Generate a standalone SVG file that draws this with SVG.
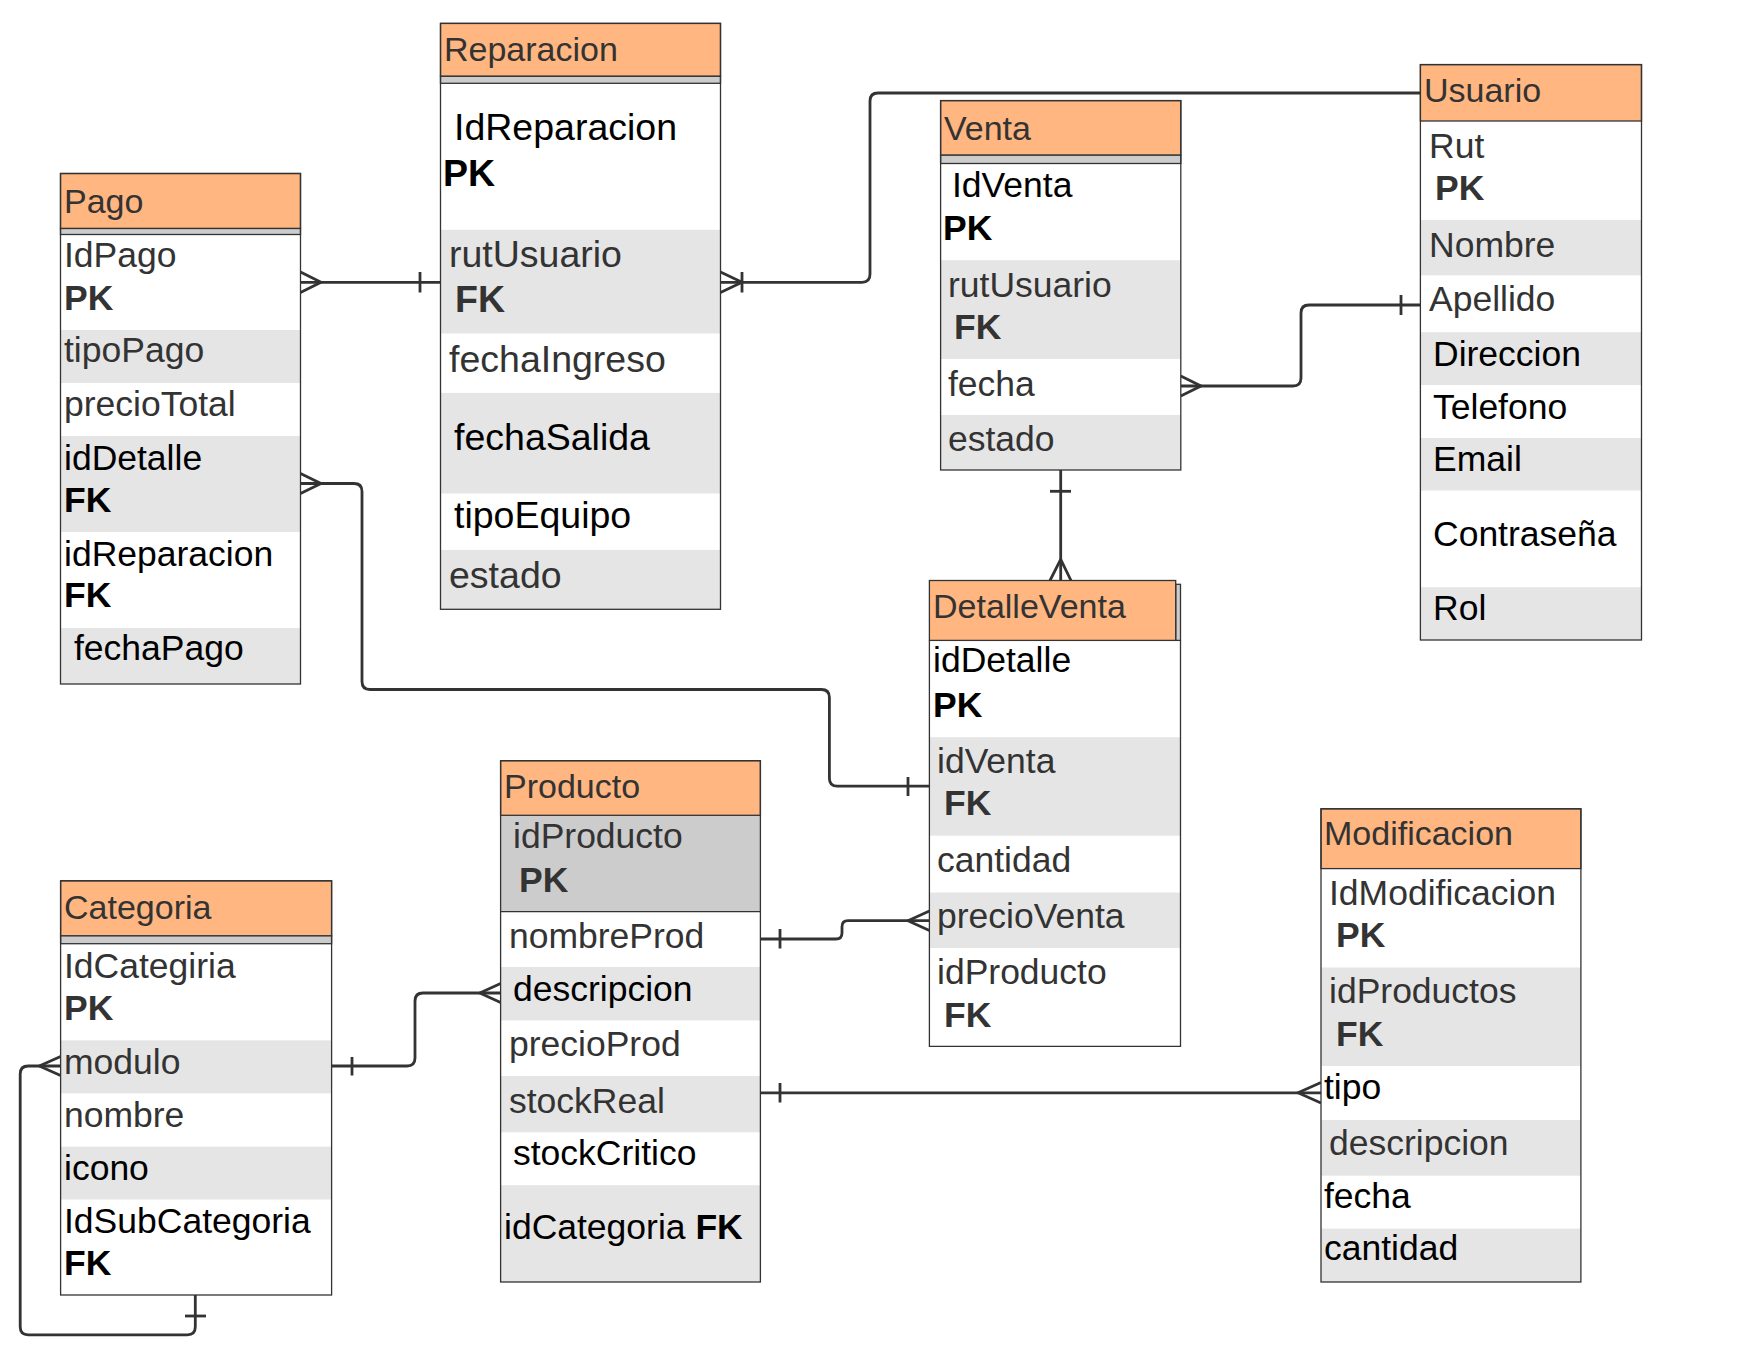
<svg xmlns="http://www.w3.org/2000/svg" width="1759" height="1359" viewBox="0 0 1759 1359">
<style>
.bg{fill:#fff}
.body{fill:#fff}
.alt{fill:#e5e5e5}
.pkrow{fill:#cccccc}
.hdr{fill:#ffb681;stroke:#333;stroke-width:1.3}
.strip{fill:#cccccc;stroke:#333;stroke-width:1.3}
.frame{fill:none;stroke:#333;stroke-width:1.3}
.sep{stroke:#333;stroke-width:1.3}
text{font-family:"Liberation Sans",Arial,sans-serif;font-size:35.5px;fill:#333}
.h{font-size:34px}
.k{fill:#000}
.b{font-weight:bold}
.r{font-size:37.5px}
.conn{fill:none;stroke:#333;stroke-width:2.8;stroke-linejoin:round}
</style>
<rect class="bg" x="0" y="0" width="1759" height="1359"/>

<g id="connectors">
  <!-- Pago - Reparacion -->
  <path class="conn" d="M300.5 282.3 H440.5"/>
  <path class="conn" d="M300.5 272 L321 282.3 L300.5 292.5"/>
  <path class="conn" d="M420 272 V292.5"/>
  <!-- Reparacion - Usuario -->
  <path class="conn" d="M720.5 282.3 H862 Q870 282.3 870 274.3 V101 Q870 93 878 93 H1420.4"/>
  <path class="conn" d="M720.5 272 L742 282.3 L720.5 292.5"/>
  <path class="conn" d="M742 272 V292.5"/>
  <!-- Venta - Usuario -->
  <path class="conn" d="M1180.8 386 H1293 Q1301 386 1301 378 V313 Q1301 305 1309 305 H1420.4"/>
  <path class="conn" d="M1180.8 376 L1201 386 L1180.8 396"/>
  <path class="conn" d="M1401 295 V315"/>
  <!-- Venta - DetalleVenta -->
  <path class="conn" d="M1060.7 470 V580.5"/>
  <path class="conn" d="M1050 491.3 H1071"/>
  <path class="conn" d="M1050 580.5 L1060.7 559.4 L1071 580.5"/>
  <!-- Pago - DetalleVenta -->
  <path class="conn" d="M300.5 483.5 H354 Q362 483.5 362 491.5 V681.5 Q362 689.5 370 689.5 H821.4 Q829.4 689.5 829.4 697.5 V778.2 Q829.4 786.2 837.4 786.2 H929.4"/>
  <path class="conn" d="M300.5 473.5 L321 483.5 L300.5 493.5"/>
  <path class="conn" d="M908 777 V796"/>
  <!-- Categoria self -->
  <path class="conn" d="M195.3 1295 V1326.8 Q195.3 1334.8 187.3 1334.8 H28.2 Q20.2 1334.8 20.2 1326.8 V1074 Q20.2 1066 28.2 1066 H60.6"/>
  <path class="conn" d="M60.6 1056.5 L39.3 1066 L60.6 1075.5"/>
  <path class="conn" d="M185 1316 H206"/>
  <!-- Categoria - Producto -->
  <path class="conn" d="M331.6 1066 H407 Q415 1066 415 1058 V1001 Q415 993 423 993 H500.6"/>
  <path class="conn" d="M500.6 983.5 L479.8 993 L500.6 1002.5"/>
  <path class="conn" d="M352 1057 V1075.5"/>
  <!-- Producto - DetalleVenta -->
  <path class="conn" d="M760.4 939 H836 Q842 939 842 933 V926.7 Q842 920.7 848 920.7 H929.4"/>
  <path class="conn" d="M780 929 V948.5"/>
  <path class="conn" d="M929.4 911 L908 920.7 L929.4 930.5"/>
  <!-- Producto - Modificacion -->
  <path class="conn" d="M760.4 1092.8 H1321"/>
  <path class="conn" d="M780 1083 V1102.5"/>
  <path class="conn" d="M1321 1082.5 L1298 1092.8 L1321 1103"/>
</g>

<g id="pago">
  <rect class="body" x="60.5" y="234.5" width="240" height="449.5"/>
  <rect class="alt" x="60.5" y="330" width="240" height="53"/>
  <rect class="alt" x="60.5" y="436" width="240" height="96"/>
  <rect class="alt" x="60.5" y="628" width="240" height="56"/>
  <rect class="hdr" x="60.5" y="173.5" width="240" height="55"/>
  <rect class="strip" x="60.5" y="228.5" width="240" height="6"/>
  <rect class="frame" x="60.5" y="173.5" width="240" height="510.5"/>
  <text class="h" x="64" y="212.5">Pago</text>
  <text x="64" y="266.5">IdPago</text>
  <text class="b" x="64" y="310">PK</text>
  <text x="64" y="362">tipoPago</text>
  <text x="64" y="416">precioTotal</text>
  <text class="k" x="64" y="469.5">idDetalle</text>
  <text class="k b" x="64" y="511.5">FK</text>
  <text class="k" x="64" y="566">idReparacion</text>
  <text class="k b" x="64" y="607">FK</text>
  <text class="k" x="74" y="660">fechaPago</text>
</g>

<g id="reparacion">
  <rect class="body" x="440.5" y="83.3" width="280" height="526"/>
  <rect class="alt" x="440.5" y="229.8" width="280" height="103.7"/>
  <rect class="alt" x="440.5" y="392.9" width="280" height="100.6"/>
  <rect class="alt" x="440.5" y="549.9" width="280" height="59.4"/>
  <rect class="hdr" x="440.5" y="23.4" width="280" height="52.9"/>
  <rect class="strip" x="440.5" y="76.3" width="280" height="7"/>
  <rect class="frame" x="440.5" y="23.4" width="280" height="585.9"/>
  <text class="h" x="444" y="60.7">Reparacion</text>
  <text class="r k" x="454" y="139.6">IdReparacion</text>
  <text class="r k b" x="443" y="185.6">PK</text>
  <text class="r" x="449" y="266.7">rutUsuario</text>
  <text class="r b" x="455" y="312">FK</text>
  <text class="r" x="449" y="372">fechaIngreso</text>
  <text class="r k" x="454" y="450">fechaSalida</text>
  <text class="r k" x="454" y="528">tipoEquipo</text>
  <text class="r" x="449" y="587.6">estado</text>
</g>

<g id="venta">
  <rect class="body" x="940.6" y="163.5" width="240.2" height="306.5"/>
  <rect class="alt" x="940.6" y="260.2" width="240.2" height="98.8"/>
  <rect class="alt" x="940.6" y="415" width="240.2" height="55"/>
  <rect class="hdr" x="940.6" y="100.6" width="240.2" height="54.6"/>
  <rect class="strip" x="940.6" y="155.2" width="240.2" height="8.3"/>
  <rect class="frame" x="940.6" y="100.6" width="240.2" height="369.4"/>
  <text class="h" x="944" y="139.6">Venta</text>
  <text class="k" x="952" y="197.3">IdVenta</text>
  <text class="k b" x="943" y="239.8">PK</text>
  <text x="948" y="297">rutUsuario</text>
  <text class="b" x="954" y="339">FK</text>
  <text x="948" y="395.5">fecha</text>
  <text x="948" y="451">estado</text>
</g>

<g id="usuario">
  <rect class="body" x="1420.4" y="121" width="221.1" height="519"/>
  <rect class="alt" x="1420.4" y="219.9" width="221.1" height="55.5"/>
  <rect class="alt" x="1420.4" y="332.2" width="221.1" height="52.8"/>
  <rect class="alt" x="1420.4" y="438" width="221.1" height="52.5"/>
  <rect class="alt" x="1420.4" y="587.2" width="221.1" height="52.8"/>
  <rect class="hdr" x="1420.4" y="64.6" width="221.1" height="56.4"/>
  <rect class="frame" x="1420.4" y="64.6" width="221.1" height="575.4"/>
  <text class="h" x="1424" y="102">Usuario</text>
  <text x="1429" y="158.3">Rut</text>
  <text class="b" x="1435" y="200.3">PK</text>
  <text x="1429" y="257.2">Nombre</text>
  <text x="1429" y="310.5">Apellido</text>
  <text class="k" x="1433" y="365.6">Direccion</text>
  <text class="k" x="1433" y="418.5">Telefono</text>
  <text class="k" x="1433" y="471.4">Email</text>
  <text class="k" x="1433" y="545.5">Contraseña</text>
  <text class="k" x="1433" y="620">Rol</text>
</g>

<g id="detalleventa">
  <rect class="body" x="929.4" y="640.4" width="251.1" height="406"/>
  <rect class="alt" x="929.4" y="737.2" width="251.1" height="98.5"/>
  <rect class="alt" x="929.4" y="892.5" width="251.1" height="55.5"/>
  <rect class="strip" x="1175.7" y="584.3" width="4.8" height="56.1"/>
  <rect class="hdr" x="929.4" y="580.5" width="246.3" height="59.9"/>
  <path class="frame" d="M929.4 640.4 V1046.4 H1180.5 V640.4"/>
  <text class="h" x="933" y="618">DetalleVenta</text>
  <text class="k" x="933" y="672">idDetalle</text>
  <text class="k b" x="933" y="717">PK</text>
  <text x="937" y="773.2">idVenta</text>
  <text class="b" x="944" y="815.3">FK</text>
  <text x="937" y="872">cantidad</text>
  <text x="937" y="928">precioVenta</text>
  <text x="937" y="983.6">idProducto</text>
  <text class="b" x="944" y="1027">FK</text>
</g>

<g id="producto">
  <rect class="body" x="500.6" y="815.3" width="259.8" height="466.7"/>
  <rect class="pkrow" x="500.6" y="815.3" width="259.8" height="96.3"/>
  <rect class="alt" x="500.6" y="967" width="259.8" height="53.4"/>
  <rect class="alt" x="500.6" y="1076" width="259.8" height="56.3"/>
  <rect class="alt" x="500.6" y="1185.2" width="259.8" height="96.8"/>
  <line class="sep" x1="500.6" y1="911.6" x2="760.4" y2="911.6"/>
  <rect class="hdr" x="500.6" y="760.7" width="259.8" height="54.6"/>
  <rect class="frame" x="500.6" y="760.7" width="259.8" height="521.3"/>
  <text class="h" x="504" y="798">Producto</text>
  <text x="513" y="848.3">idProducto</text>
  <text class="b" x="519" y="891.6">PK</text>
  <text x="509" y="947.6">nombreProd</text>
  <text class="k" x="513" y="1001">descripcion</text>
  <text x="509" y="1056.4">precioProd</text>
  <text x="509" y="1112.8">stockReal</text>
  <text class="k" x="513" y="1164.8">stockCritico</text>
  <text class="k" x="504" y="1239.4">idCategoria <tspan class="b">FK</tspan></text>
</g>

<g id="categoria">
  <rect class="body" x="60.6" y="943.7" width="271" height="351.3"/>
  <rect class="alt" x="60.6" y="1040.4" width="271" height="52.9"/>
  <rect class="alt" x="60.6" y="1146.6" width="271" height="52.9"/>
  <rect class="hdr" x="60.6" y="880.8" width="271" height="55.1"/>
  <rect class="strip" x="60.6" y="935.9" width="271" height="7.8"/>
  <rect class="frame" x="60.6" y="880.8" width="271" height="414.2"/>
  <text class="h" x="64" y="919.4">Categoria</text>
  <text x="64" y="978">IdCategiria</text>
  <text class="b" x="64" y="1020.4">PK</text>
  <text x="64" y="1073.8">modulo</text>
  <text x="64" y="1126.7">nombre</text>
  <text class="k" x="64" y="1179.6">icono</text>
  <text class="k" x="64" y="1233">IdSubCategoria</text>
  <text class="k b" x="64" y="1275">FK</text>
</g>

<g id="modificacion">
  <rect class="body" x="1321" y="868.6" width="259.9" height="413.4"/>
  <rect class="alt" x="1321" y="967.5" width="259.9" height="98.5"/>
  <rect class="alt" x="1321" y="1120" width="259.9" height="55.7"/>
  <rect class="alt" x="1321" y="1228.6" width="259.9" height="53.4"/>
  <rect class="hdr" x="1321" y="808.8" width="259.9" height="59.8"/>
  <rect class="frame" x="1321" y="808.8" width="259.9" height="473.2"/>
  <text class="h" x="1324" y="844.8">Modificacion</text>
  <text x="1329" y="904.6">IdModificacion</text>
  <text class="b" x="1336" y="946.7">PK</text>
  <text x="1329" y="1003">idProductos</text>
  <text class="b" x="1336" y="1045.6">FK</text>
  <text class="k" x="1324" y="1098.5">tipo</text>
  <text x="1329" y="1154.8">descripcion</text>
  <text class="k" x="1324" y="1208">fecha</text>
  <text class="k" x="1324" y="1260">cantidad</text>
</g>
</svg>
